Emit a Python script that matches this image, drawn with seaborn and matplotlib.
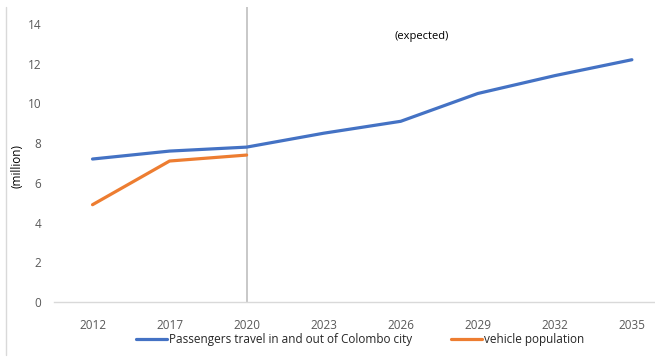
import matplotlib
matplotlib.use("Agg")
import matplotlib.pyplot as plt
from matplotlib.lines import Line2D
import seaborn as sns
import pandas as pd

years = ["2012", "2017", "2020", "2023", "2026", "2029", "2032", "2035"]
passengers = [7.2, 7.6, 7.8, 8.5, 9.1, 10.5, 11.4, 12.2]
vehicle_years = ["2012", "2017", "2020"]
vehicles = [4.9, 7.1, 7.4]
y_ticks = [0, 2, 4, 6, 8, 10, 12, 14]

sns.set_theme(style="white")
plt.rcParams["font.family"] = ["Open Sans", "DejaVu Sans"]

fig = plt.figure(figsize=(6.55, 3.57), dpi=100)
ax = fig.add_axes([54 / 655, (357 - 302) / 357, 1 - 54 / 655, (302 - 7) / 357])

df_p = pd.DataFrame({"year": years, "value": passengers})
df_v = pd.DataFrame({"year": vehicle_years, "value": vehicles})
df_p["x"] = list(range(len(years)))
df_v["x"] = [years.index(y) for y in vehicle_years]

blue = "#4472C4"
orange = "#ED7D31"
sns.lineplot(data=df_p, x="x", y="value", ax=ax, color=blue, linewidth=2.3, legend=False)
sns.lineplot(data=df_v, x="x", y="value", ax=ax, color=orange, linewidth=2.3, legend=False)

ax.axvline(years.index("2020"), color="#BFBFBF", linewidth=1.2, zorder=0)

ax.set_xlim(-0.5, 7.3)
ax.set_ylim(0, 14 + 17 / 19.86)
ax.set_xticks(list(range(len(years))))
ax.set_xticklabels(years)
ax.set_yticks(y_ticks)
ax.set_yticklabels([str(v) for v in y_ticks])
ax.tick_params(axis="both", labelsize=8.5, colors="#595959", length=0)
ax.tick_params(axis="x", pad=12)
ax.tick_params(axis="y", pad=9)
ax.set_xlabel("")
ax.set_ylabel("(million)", fontsize=8.5, color="#000000", va="center")
ax.yaxis.set_label_coords(-37 / 601, 0.46)

for side in ["top", "right", "left"]:
    ax.spines[side].set_visible(False)
ax.spines["bottom"].set_color("#D9D9D9")
ax.spines["bottom"].set_linewidth(1.0)

ax.text(4.27, 13.35, "(expected)", fontsize=8, ha="center", va="center", color="#000000")

handles = [Line2D([0], [0], color=blue, linewidth=2.3),
           Line2D([0], [0], color=orange, linewidth=2.3)]
fig.legend(handles, ["Passengers travel in and out of Colombo city", "vehicle population"],
           loc="center", bbox_to_anchor=(360 / 655, 1 - 340 / 357), ncol=2, frameon=False,
           fontsize=8.5, handlelength=2.65, handletextpad=0.1, columnspacing=3.35)

fig.add_artist(Line2D([5.5 / 655, 5.5 / 655], [1 - 7 / 357, 1 - 355 / 357], color="#D9D9D9", linewidth=1.0))

fig.savefig("out.png", dpi=100)
